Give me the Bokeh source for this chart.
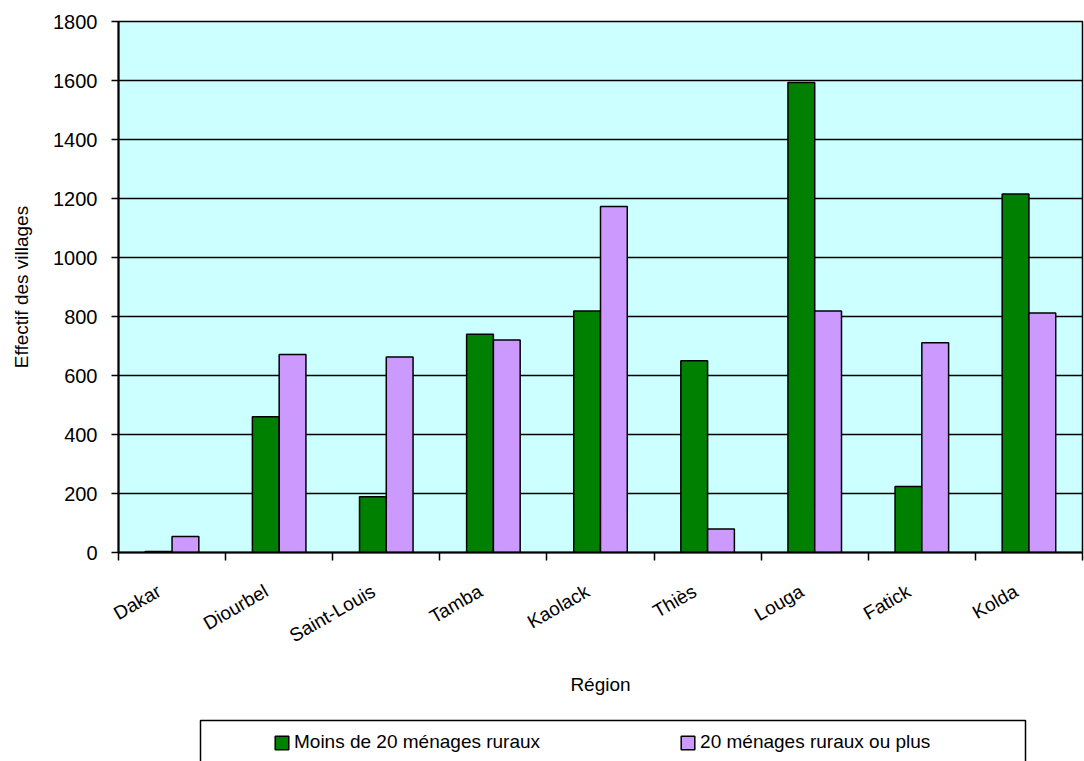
from bokeh.plotting import figure
from bokeh.layouts import column
from bokeh.models import (ColumnDataSource, FixedTicker, Legend, LegendItem, Range1d)
from bokeh.transform import dodge
from bokeh.embed import file_html
from bokeh.resources import INLINE

regions = ["Dakar", "Diourbel", "Saint-Louis", "Tamba", "Kaolack",
           "Thiès", "Louga", "Fatick", "Kolda"]
moins_20 = [3, 460, 189, 740, 819, 650, 1593, 224, 1215]
plus_20 = [54, 671, 663, 720, 1173, 80, 819, 711, 812]
y_ticks = [0, 200, 400, 600, 800, 1000, 1200, 1400, 1600, 1800]
series_names = ["Moins de 20 ménages ruraux", "20 ménages ruraux ou plus"]

FONT = "Liberation Sans"
GREEN = "#008000"
PURPLE = "#CC99FF"

centers = [i + 0.5 for i in range(len(regions))]
# label anchors sit slightly left of each group centre (like the original)
label_pos = [c - 0.12 for c in centers]
src = ColumnDataSource(dict(x=centers, moins=moins_20, plus=plus_20, region=regions))

p = figure(width=1084, height=710, output_backend="svg", toolbar_location=None,
           x_range=Range1d(0, len(regions)), y_range=Range1d(0, 1800),
           min_border_left=118, min_border_right=2, min_border_top=21,
           min_border_bottom=158)

p.background_fill_color = "#CCFFFF"
p.border_fill_color = "white"
p.outline_line_color = "black"
p.outline_line_width = 1.5

r1 = p.vbar(x=dodge("x", -0.125, range=p.x_range), top="moins", width=0.25, source=src,
            fill_color=GREEN, line_color="black", line_width=1.5)
r2 = p.vbar(x=dodge("x", 0.125, range=p.x_range), top="plus", width=0.25, source=src,
            fill_color=PURPLE, line_color="black", line_width=1.5)

# x axis
xa = p.xaxis[0]
xa.ticker = FixedTicker(ticks=label_pos, minor_ticks=list(range(len(regions) + 1)))
xa.major_label_overrides = {c: r for c, r in zip(label_pos, regions)}
xa.major_label_orientation = 0.5236
xa.major_tick_out = 0
xa.major_tick_in = 0
xa.minor_tick_out = 8
xa.minor_tick_in = 0
xa.minor_tick_line_color = "black"
xa.minor_tick_line_width = 1.5
xa.axis_line_color = "black"
xa.axis_line_width = 2
xa.major_label_text_font = FONT
xa.major_label_text_font_size = "19px"
xa.major_label_text_color = "black"
xa.major_label_standoff = 29
xa.axis_label = "Région"
xa.axis_label_text_font = FONT
xa.axis_label_text_font_size = "19px"
xa.axis_label_text_font_style = "normal"
xa.axis_label_text_color = "black"
xa.axis_label_standoff = 16

# y axis
ya = p.yaxis[0]
ya.ticker = FixedTicker(ticks=y_ticks)
ya.major_tick_out = 7
ya.major_tick_in = 0
ya.minor_tick_line_color = None
ya.major_tick_line_color = "black"
ya.major_tick_line_width = 1.5
ya.axis_line_color = "black"
ya.axis_line_width = 2
ya.major_label_text_font = FONT
ya.major_label_text_font_size = "20px"
ya.major_label_text_color = "black"
ya.major_label_standoff = 14
ya.axis_label = "Effectif des villages"
ya.axis_label_text_font = FONT
ya.axis_label_text_font_size = "19px"
ya.axis_label_text_font_style = "normal"
ya.axis_label_text_color = "black"
ya.axis_label_standoff = 18

p.xgrid.grid_line_color = None
p.ygrid.grid_line_color = "black"
p.ygrid.grid_line_width = 1.5

# legend strip below the chart; its ranges are in page pixels
p2 = figure(width=1084, height=51, output_backend="svg", toolbar_location=None,
            x_range=Range1d(118, 1082), y_range=Range1d(0, 51),
            x_axis_type=None, y_axis_type=None,
            min_border_left=118, min_border_right=2, min_border_top=0,
            min_border_bottom=0)
p2.outline_line_color = None
p2.background_fill_color = "white"
p2.border_fill_color = "white"
p2.grid.visible = False

p2.quad(left=[200], right=[1025], top=[41], bottom=[-20],
        fill_color="white", line_color="black", line_width=1.5)
# legend swatches only (no drawable data)
swatch = ColumnDataSource(dict(x=[float("nan")], top=[float("nan")]))
g1 = p2.vbar(x="x", top="top", width=1, source=swatch,
             fill_color=GREEN, line_color="black", line_width=1.5)
g2 = p2.vbar(x="x", top="top", width=1, source=swatch,
             fill_color=PURPLE, line_color="black", line_width=1.5)

legend = Legend(items=[LegendItem(label=series_names[0], renderers=[g1]),
                       LegendItem(label=series_names[1], renderers=[g2])],
                orientation="horizontal", location=(155, 8),
                padding=12, spacing=139, margin=0,
                glyph_width=17, glyph_height=17, label_standoff=4,
                label_text_font=FONT, label_text_font_size="19px",
                label_text_color="black",
                border_line_color=None, background_fill_alpha=0)
p2.add_layout(legend, "center")

layout = column(p, p2, spacing=0)
open("out.html", "w").write(file_html(layout, INLINE))
